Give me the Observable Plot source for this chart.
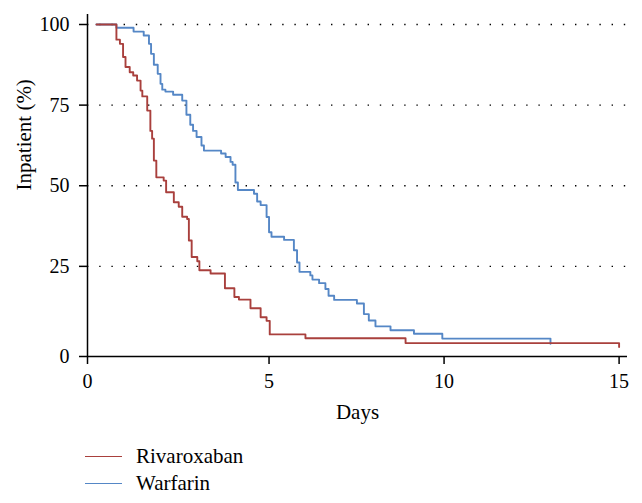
<!DOCTYPE html>
<html><head><meta charset="utf-8">
<script src="https://cdn.jsdelivr.net/npm/d3@7"></script>
<script src="https://cdn.jsdelivr.net/npm/@observablehq/plot@0.6"></script>
<style>
body{margin:0;background:#fff;font-family:"Liberation Serif",serif;}
#wrap{position:relative;width:642px;height:503px;overflow:hidden;background:#fff;}
#legend{position:absolute;left:85px;top:443px;font-size:21px;color:#000;}
.item{display:flex;align-items:center;height:27px;}
.sw{width:37px;height:0;border-top:1.8px solid;margin-right:14px;}
</style></head><body><div id="wrap"><div id="chart"></div><div id="legend"></div></div>
<script>
const series = ["Rivaroxaban", "Warfarin"];
const colors = ["#a9403d", "#5587c6"];

const rivDays = [0.07, 0.64, 0.74, 0.83, 0.90, 1.02, 1.12, 1.23, 1.33, 1.38, 1.52, 1.61, 1.66, 1.71, 1.78, 1.99, 2.06, 2.28, 2.42, 2.52, 2.66, 2.71, 2.79, 2.95, 3.01, 3.33, 3.74, 4.01, 4.14, 4.47, 4.76, 4.93, 5.02, 6.04, 8.90, 15.0];
const rivPct  = [100, 95.3, 94.0, 89.9, 86.8, 85.2, 84.2, 82.6, 79.5, 77.7, 73.3, 67.0, 64.6, 57.8, 52.6, 51.6, 48.0, 44.9, 43.5, 40.4, 39.7, 33.0, 27.9, 26.6, 23.8, 22.8, 18.2, 15.5, 14.7, 12.0, 9.2, 8.1, 3.9, 2.7, 1.2, 0];

const warDays = [0.07, 0.64, 1.13, 1.42, 1.57, 1.63, 1.71, 1.82, 1.90, 1.95, 2.04, 2.26, 2.52, 2.64, 2.75, 2.83, 2.93, 3.07, 3.14, 3.63, 3.76, 3.90, 3.96, 4.04, 4.11, 4.57, 4.66, 4.76, 4.93, 5.00, 5.07, 5.43, 5.71, 5.80, 5.87, 6.18, 6.24, 6.43, 6.61, 6.70, 6.86, 7.51, 7.71, 7.85, 8.04, 8.47, 9.14, 9.95, 13.04];
const warPct  = [100, 99.0, 97.8, 96.6, 94.0, 90.9, 87.5, 84.7, 81.6, 79.8, 79.2, 78.2, 76.4, 72.0, 68.9, 67.0, 65.1, 62.5, 60.9, 60.0, 58.9, 57.4, 56.5, 51.0, 48.7, 47.5, 45.1, 44.0, 40.3, 35.6, 34.2, 33.2, 30.0, 26.2, 23.3, 22.2, 20.9, 19.8, 18.0, 15.9, 14.6, 13.5, 10.2, 8.2, 6.4, 5.2, 4.1, 2.6, 1.0];

const xTicks = [0, 5, 10, 15];
const yTicks = [0, 25, 50, 75, 100];
const yGrid = [25, 50, 75, 100];
const xTitle = "Days";
const yTitle = "Inpatient (%)";

// axis origin sits slightly outside the data zero, as in the reference
const xMin = -0.186, xMax = 15.24, yMin = -2.95, yMax = 103.1;

const rows = [
  ...warDays.map((d, i) => ({series: series[1], day: d, pct: warPct[i]})),
  ...rivDays.map((d, i) => ({series: series[0], day: d, pct: rivPct[i]}))
];

const xTickPos = xTicks.map(v => v === 0 ? xMin : v);
const yTickPos = yTicks.map(v => v === 0 ? yMin : v);

const chart = Plot.plot({
  width: 642, height: 430,
  marginLeft: 87, marginRight: 15, marginTop: 14, marginBottom: 74,
  style: {fontFamily: '"Liberation Serif", serif', fontSize: "20px", color: "#000", background: "#fff", overflow: "visible"},
  x: {domain: [xMin, xMax]},
  y: {domain: [yMin, yMax]},
  color: {domain: series, range: colors},
  marks: [
    Plot.ruleY(yGrid, {stroke: "#000", strokeWidth: 1.4, strokeDasharray: "1.4,10.8"}),
    Plot.ruleX([xMin], {stroke: "#000", strokeWidth: 1.5}),
    Plot.ruleY([yMin], {stroke: "#000", strokeWidth: 1.5}),
    Plot.axisY(yTickPos, {tickSize: 8, tickPadding: 10, strokeWidth: 1.5, label: null,
      tickFormat: d => String(yTicks[yTickPos.indexOf(d)])}),
    Plot.axisX(xTickPos, {tickSize: 8, tickPadding: 9, strokeWidth: 1.5, label: null,
      tickFormat: d => String(xTicks[xTickPos.indexOf(d)])}),
    Plot.text([xTitle], {frameAnchor: "bottom", dy: 62, text: d => d, fontSize: 21}),
    Plot.text([yTitle], {frameAnchor: "left", dx: -63, dy: 5, rotate: -90, text: d => d, fontSize: 21}),
    Plot.line(rows, {x: "day", y: "pct", z: "series", stroke: "series", curve: "step-after", strokeWidth: 1.9})
  ]
});
document.getElementById("chart").appendChild(chart);

const legend = document.getElementById("legend");
series.forEach((s, i) => {
  const it = document.createElement("div");
  it.className = "item";
  const sw = document.createElement("span");
  sw.className = "sw";
  sw.style.borderTopColor = colors[i];
  const t = document.createElement("span");
  t.textContent = s;
  it.appendChild(sw); it.appendChild(t);
  legend.appendChild(it);
});
</script>
</body></html>
